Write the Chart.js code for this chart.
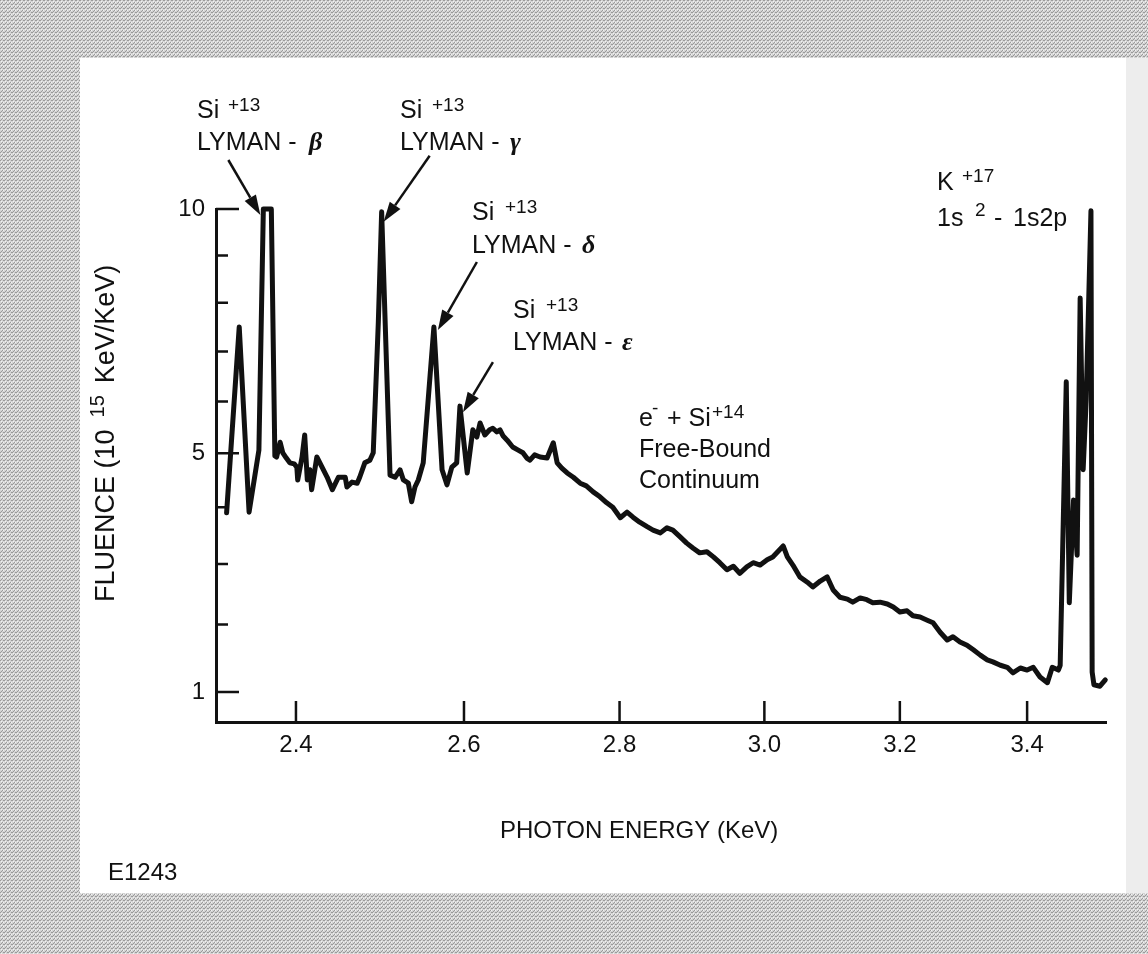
<!DOCTYPE html>
<html>
<head>
<meta charset="utf-8">
<script src="https://cdn.jsdelivr.net/npm/chart.js@4.4.0/dist/chart.umd.min.js"></script>
<style>
  html, body { margin: 0; padding: 0; background: #fff; }
  #wrap { width: 1148px; height: 954px; }
</style>
</head>
<body>
<div id="wrap"><canvas id="chart" width="1148" height="954"></canvas></div>
<script>
// photon energy (KeV)
const energy = [
  2.322, 2.336, 2.347, 2.358, 2.363, 2.372, 2.376, 2.378, 2.382, 2.385,
  2.389, 2.393, 2.398, 2.401, 2.402, 2.407, 2.410, 2.413, 2.416, 2.418,
  2.424, 2.430, 2.436, 2.442, 2.449, 2.457, 2.459, 2.465, 2.471, 2.474,
  2.480, 2.486, 2.490, 2.496, 2.500, 2.510, 2.516, 2.522, 2.526, 2.532,
  2.536, 2.540, 2.544, 2.550, 2.563, 2.573, 2.579, 2.585, 2.591, 2.595,
  2.604, 2.611, 2.616, 2.620, 2.626, 2.632, 2.636, 2.641, 2.645, 2.649,
  2.654, 2.661, 2.668, 2.674, 2.679, 2.683, 2.689, 2.696, 2.705, 2.713,
  2.718, 2.724, 2.731, 2.739, 2.748, 2.756, 2.765, 2.774, 2.783, 2.791,
  2.801, 2.810, 2.818, 2.827, 2.837, 2.845, 2.855, 2.864, 2.872, 2.882,
  2.891, 2.900, 2.909, 2.919, 2.928, 2.937, 2.947, 2.956, 2.965, 2.975,
  2.984, 2.994, 3.004, 3.012, 3.027, 3.033, 3.041, 3.051, 3.062, 3.070,
  3.081, 3.091, 3.100, 3.110, 3.121, 3.129, 3.140, 3.150, 3.159, 3.170,
  3.181, 3.190, 3.200, 3.211, 3.220, 3.231, 3.242, 3.251, 3.262, 3.273,
  3.282, 3.293, 3.304, 3.314, 3.325, 3.336, 3.345, 3.357, 3.368, 3.377,
  3.389, 3.400, 3.410, 3.421, 3.433, 3.441, 3.451, 3.454, 3.464, 3.469,
  3.476, 3.482, 3.487, 3.492, 3.497, 3.505, 3.507, 3.510, 3.520, 3.529
];
// fluence (10^15 KeV/KeV)
const fluence = [
  3.90, 7.50, 3.91, 5.06, 10.0, 10.0, 4.95, 4.93, 5.21, 5.01,
  4.91, 4.82, 4.80, 4.74, 4.50, 4.93, 5.35, 4.50, 4.69, 4.32,
  4.93, 4.74, 4.55, 4.32, 4.55, 4.55, 4.37, 4.46, 4.44, 4.55,
  4.82, 4.87, 5.01, 7.58, 9.94, 4.59, 4.55, 4.69, 4.50, 4.44,
  4.10, 4.37, 4.50, 4.82, 7.50, 4.69, 4.41, 4.74, 4.82, 5.91,
  4.63, 5.45, 5.31, 5.58, 5.35, 5.45, 5.48, 5.41, 5.45, 5.33,
  5.25, 5.12, 5.06, 5.01, 4.91, 4.87, 4.97, 4.93, 4.91, 5.20,
  4.82, 4.72, 4.63, 4.55, 4.44, 4.39, 4.28, 4.19, 4.08, 4.00,
  3.81, 3.91, 3.82, 3.73, 3.65, 3.59, 3.54, 3.63, 3.59, 3.47,
  3.36, 3.27, 3.19, 3.21, 3.12, 3.02, 2.90, 2.96, 2.84, 2.95,
  3.02, 2.98, 3.07, 3.12, 3.31, 3.12, 2.98, 2.78, 2.69, 2.61,
  2.71, 2.78, 2.56, 2.44, 2.41, 2.36, 2.43, 2.40, 2.35, 2.36,
  2.33, 2.28, 2.20, 2.22, 2.14, 2.12, 2.07, 2.03, 1.88, 1.76,
  1.81, 1.73, 1.68, 1.61, 1.53, 1.46, 1.43, 1.38, 1.35, 1.27,
  1.34, 1.31, 1.35, 1.21, 1.13, 1.35, 1.31, 1.38, 6.39, 2.35,
  4.13, 3.15, 8.10, 4.69, 6.03, 9.96, 1.28, 1.10, 1.08, 1.17
];
const xTicks = [2.4, 2.6, 2.8, 3.0, 3.2, 3.4];
const yTicks = [1, 2, 3, 4, 5, 6, 7, 8, 9, 10];
const yLabelled = [1, 5, 10];

const SANS = "'Liberation Sans', Arial, sans-serif";
const F_MAIN = "25px " + SANS;
const F_SUP = "19px " + SANS;
const F_GREEK = "bold italic 26px 'Liberation Serif', serif";

// the fluence axis of the original is drawn with a power 0.8 spacing
const POW = 0.8;
class PowerScale extends Chart.LinearScale {
  getPixelForValue(value) {
    const a = Math.pow(this.min, POW), b = Math.pow(this.max, POW);
    return this.getPixelForDecimal((Math.pow(value, POW) - a) / (b - a));
  }
  getValueForPixel(pixel) {
    const a = Math.pow(this.min, POW), b = Math.pow(this.max, POW);
    return Math.pow(a + this.getDecimalForPixel(pixel) * (b - a), 1 / POW);
  }
}
PowerScale.id = 'power';
Chart.register(PowerScale);

const paper = {
  id: 'paper',
  beforeDraw(chart) {
    const ctx = chart.ctx;
    const tile = document.createElement('canvas');
    tile.width = 4; tile.height = 4;
    const t = tile.getContext('2d');
    t.fillStyle = '#d4d4d4'; t.fillRect(0, 0, 4, 4);
    t.fillStyle = '#9a9a9a';
    [[0,0],[2,2],[3,0],[1,3]].forEach(p => t.fillRect(p[0], p[1], 1, 1));
    t.fillStyle = '#f2f2f2';
    [[1,1],[3,2]].forEach(p => t.fillRect(p[0], p[1], 1, 1));
    ctx.save();
    ctx.fillStyle = ctx.createPattern(tile, 'repeat');
    ctx.fillRect(0, 0, chart.width, chart.height);
    ctx.fillStyle = '#ededed';
    ctx.fillRect(1126, 58, 22, 835);
    ctx.fillStyle = '#fff';
    ctx.fillRect(80, 58, 1046, 835);
    ctx.restore();
  }
};

const innerTicks = {
  id: 'innerTicks',
  afterDraw(chart) {
    const ctx = chart.ctx, x = chart.scales.x, y = chart.scales.y;
    ctx.save();
    ctx.strokeStyle = '#111';
    ctx.lineWidth = 2.5;
    ctx.beginPath();
    yTicks.forEach(v => {
      const py = y.getPixelForValue(v);
      const len = yLabelled.includes(v) ? 23 : 12;
      ctx.moveTo(x.left, py); ctx.lineTo(x.left + len, py);
    });
    xTicks.forEach(v => {
      const px = x.getPixelForValue(v);
      ctx.moveTo(px, y.bottom); ctx.lineTo(px, y.bottom - 21);
    });
    ctx.stroke();
    ctx.restore();
  }
};

const notes = [
  ['Si', 197, 118, F_MAIN], ['+13', 228, 111, F_SUP], ['LYMAN -', 197, 150, F_MAIN], ['\u03B2', 309, 150, F_GREEK],
  ['Si', 400, 118, F_MAIN], ['+13', 432, 111, F_SUP], ['LYMAN -', 400, 150, F_MAIN], ['\u03B3', 510, 150, F_GREEK],
  ['Si', 472, 220, F_MAIN], ['+13', 505, 213, F_SUP], ['LYMAN -', 472, 253, F_MAIN], ['\u03B4', 582, 253, F_GREEK],
  ['Si', 513, 318, F_MAIN], ['+13', 546, 311, F_SUP], ['LYMAN -', 513, 350, F_MAIN], ['\u03B5', 622, 350, F_GREEK],
  ['e', 639, 426, F_MAIN], ['-', 652, 414, F_SUP], ['+ Si', 667, 426, F_MAIN], ['+14', 712, 418, F_SUP],
  ['Free-Bound', 639, 457, F_MAIN], ['Continuum', 639, 488, F_MAIN],
  ['K', 937, 190, F_MAIN], ['+17', 962, 182, F_SUP],
  ['1s', 937, 226, F_MAIN], ['2', 975, 216, F_SUP], ['-', 994, 226, F_MAIN], ['1s2p', 1013, 226, F_MAIN],
  ['PHOTON ENERGY (KeV)', 500, 838, "24px " + SANS],
  ['E1243', 108, 880, "24px " + SANS]
];
// arrow tips sit on a peak of the trace: [point index, tip dx, tip dy, tail dx, tail dy]
const arrows = [
  [4, -3, 6, -32, -55],
  [34, 2, 10, 46, -66],
  [44, 4, 3, 39, -68],
  [49, 3, 6, 30, -50]
];

const annotate = {
  id: 'annotate',
  afterDraw(chart) {
    const ctx = chart.ctx, x = chart.scales.x, y = chart.scales.y;
    ctx.save();
    ctx.fillStyle = '#111';
    ctx.textBaseline = 'alphabetic';
    ctx.textAlign = 'left';
    notes.forEach(n => { ctx.font = n[3]; ctx.fillText(n[0], n[1], n[2]); });

    // rotated y title with superscript, runs from y=602 up to about y=248
    ctx.save();
    ctx.translate(114, 602);
    ctx.rotate(-Math.PI / 2);
    const big = "27px " + SANS;
    let cx = 0;
    ctx.font = big;
    ctx.fillText('FLUENCE (10', cx, 0);
    cx += ctx.measureText('FLUENCE (10').width + 12;
    ctx.font = "20px " + SANS;
    ctx.fillText('15', cx, -10);
    cx += ctx.measureText('15').width + 12;
    ctx.font = big;
    ctx.fillText('KeV/KeV)', cx, 0);
    ctx.restore();

    ctx.strokeStyle = '#111';
    ctx.lineWidth = 2.5;
    arrows.forEach(a => {
      const tx = x.getPixelForValue(energy[a[0]]) + a[1];
      const ty = y.getPixelForValue(fluence[a[0]]) + a[2];
      const sx = tx + a[3], sy = ty + a[4];
      const ang = Math.atan2(ty - sy, tx - sx);
      const hl = 20, hw = 6.5;
      const bx = tx - hl * Math.cos(ang), by = ty - hl * Math.sin(ang);
      ctx.beginPath(); ctx.moveTo(sx, sy); ctx.lineTo(bx, by); ctx.stroke();
      ctx.beginPath();
      ctx.moveTo(tx, ty);
      ctx.lineTo(bx + hw * Math.sin(ang), by - hw * Math.cos(ang));
      ctx.lineTo(bx - hw * Math.sin(ang), by + hw * Math.cos(ang));
      ctx.closePath(); ctx.fill();
    });
    ctx.restore();
  }
};

Chart.defaults.font.family = SANS;
Chart.defaults.color = '#111';

const ctx = document.getElementById('chart').getContext('2d');
const chart = new Chart(ctx, {
  type: 'line',
  data: {
    datasets: [{
      data: energy.map((e, i) => ({ x: e, y: fluence[i] })),
      borderColor: '#111',
      borderWidth: 5,
      borderJoinStyle: 'round',
      borderCapStyle: 'round',
      pointRadius: 0,
      tension: 0,
      fill: false,
      clip: false
    }]
  },
  options: {
    responsive: false,
    animation: false,
    events: [],
    layout: { padding: { top: 209, right: 42, left: 0, bottom: 172 } },
    plugins: { legend: { display: false }, tooltip: { enabled: false } },
    scales: {
      x: {
        type: 'logarithmic',
        min: 2.3103,
        max: 3.5302,
        afterBuildTicks: s => { s.ticks = xTicks.map(v => ({ value: v })); },
        afterFit: s => { s.height = 60; },
        grid: { display: false, drawTicks: false },
        border: { display: true, color: '#111', width: 3 },
        ticks: {
          autoSkip: false, maxRotation: 0, padding: 9,
          font: { size: 24 }, color: '#111',
          callback: v => Number(v).toFixed(1)
        }
      },
      y: {
        type: 'power',
        min: 0.6064,
        max: 10,
        afterBuildTicks: s => { s.ticks = yTicks.map(v => ({ value: v })); },
        afterFit: s => { s.width = 216; },
        grid: { display: false, drawTicks: false },
        border: { display: true, color: '#111', width: 3 },
        ticks: {
          autoSkip: false, padding: 11,
          font: { size: 24 }, color: '#111',
          callback: v => yLabelled.includes(v) ? String(v) : ''
        }
      }
    }
  },
  plugins: [paper, innerTicks, annotate]
});
</script>
</body>
</html>
